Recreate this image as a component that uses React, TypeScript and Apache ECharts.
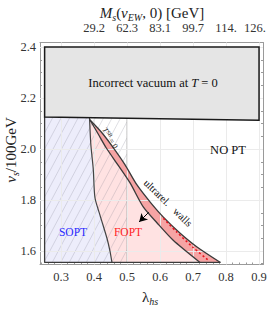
import React, { useEffect, useRef } from 'react';
import * as echarts from 'echarts';

// axis ranges
const X_MIN = 0.236;
const X_MAX = 0.912;
const Y_MIN = 1.547;
const Y_MAX = 2.418;

// tick values
const xMajor = [0.3, 0.4, 0.5, 0.6, 0.7, 0.8, 0.9];
const xMinor = [0.24, 0.26, 0.28, 0.32, 0.34, 0.36, 0.38, 0.42, 0.44, 0.46, 0.48, 0.52, 0.54, 0.56, 0.58, 0.62, 0.64, 0.66, 0.68, 0.72, 0.74, 0.76, 0.78, 0.82, 0.84, 0.86, 0.88];
const yMajor = [1.6, 1.8, 2.0, 2.2, 2.4];
const yMinor = [1.55, 1.65, 1.7, 1.75, 1.85, 1.9, 1.95, 2.05, 2.1, 2.15, 2.25, 2.3, 2.35];
const topTicks = [0.4, 0.5, 0.6, 0.7, 0.8, 0.9];
const topLabels = ['29.2', '62.3', '83.1', '99.7', '114.', '126.'];

// regions (lambda_hs, v_s/100GeV)
const grayBox = [[0.25, 2.4], [0.9, 2.4], [0.9, 2.113], [0.25, 2.126]];
const soptBoundary = [[0.386, 2.126], [0.39, 2.02], [0.3975, 1.92], [0.4025, 1.81], [0.418, 1.74], [0.439, 1.65], [0.448, 1.6], [0.454, 1.555]];
const bandLower = [[0.387, 2.115], [0.412, 2.06], [0.437, 2.004], [0.4726, 1.937], [0.509, 1.867], [0.549, 1.773], [0.591, 1.71], [0.639, 1.643], [0.721, 1.555]];
const bandUpper = [[0.387, 2.115], [0.423, 2.065], [0.459, 2.004], [0.493, 1.94], [0.530, 1.859], [0.570, 1.792], [0.610, 1.733], [0.660, 1.671], [0.712, 1.616], [0.783, 1.555]];
const redDotted = [[0.61, 1.728], [0.65, 1.675], [0.7, 1.614], [0.745, 1.565]];
const outline = [[0.25, 2.126], [0.25, 1.555], [0.783, 1.555]];
const tsbLine = [[0.5, 2.124], [0.5, 1.555]];
const hatchRect = [[0.25, 2.126], [0.5, 1.555]];
const arrowTail = [0.5665, 1.753];
const arrowHead = [0.5365, 1.714];

const SERIF = '"Liberation Serif", "DejaVu Serif", serif';

function polySeries(pts: number[][], fill: string, z: number, stroke?: string, lw?: number) {
  return {
    type: 'custom',
    coordinateSystem: 'cartesian2d',
    xAxisIndex: 0,
    yAxisIndex: 0,
    data: [pts[0]],
    z,
    silent: true,
    clip: false,
    renderItem: (params: any, api: any) => {
      if (params.dataIndex !== 0) return null;
      const points = pts.map((p) => api.coord(p));
      return {
        type: 'polygon',
        shape: { points },
        style: { fill, stroke: stroke || 'none', lineWidth: lw || 0 },
      };
    },
  };
}

function lineSeries(pts: number[][], color: string, width: number, z: number, type: any = 'solid') {
  return {
    type: 'line',
    xAxisIndex: 0,
    yAxisIndex: 0,
    data: pts,
    z,
    silent: true,
    symbol: 'none',
    smooth: 0.25,
    lineStyle: { color, width, type },
    clip: false,
  };
}

export default function App() {
  const ref = useRef<HTMLDivElement>(null);
  useEffect(() => {
    if (!ref.current) return;
    const chart = echarts.init(ref.current, undefined, { renderer: 'svg' });

    const fopt = [...soptBoundary, ...bandLower.slice().reverse()];
    const sopt = [[0.25, 2.126], ...soptBoundary, [0.25, 1.555]];
    const band = [...bandLower, ...bandUpper.slice().reverse()];

    const axisColor = '#9a9a9a';
    const lab = { fontFamily: SERIF, fontSize: 12.5, color: '#333' };
    const titleRich = {
      i: { fontFamily: SERIF, fontSize: 15, fontStyle: 'italic', lineHeight: 18, verticalAlign: 'middle' },
      n: { fontFamily: SERIF, fontSize: 15, lineHeight: 18, verticalAlign: 'middle' },
      s: { fontFamily: SERIF, fontSize: 10, fontStyle: 'italic', lineHeight: 9, verticalAlign: 'bottom' },
    };

    const option: any = {
      animation: false,
      grid: { left: 40, right: 7, top: 42.5, bottom: 44.5, containLabel: false, outerBoundsMode: 'none' },
      xAxis: [
        {
          type: 'value', position: 'bottom', min: X_MIN, max: X_MAX,
          axisLine: { show: true, onZero: false, lineStyle: { color: axisColor } },
          axisTick: { show: true, inside: true, length: 4, customValues: xMajor, lineStyle: { color: axisColor } },
          axisLabel: { ...lab, margin: 6, customValues: xMajor, formatter: (v: number) => v.toFixed(1) },
          splitLine: { show: false },
        },
        {
          type: 'value', position: 'bottom', min: X_MIN, max: X_MAX,
          axisLine: { show: false, onZero: false },
          axisTick: { show: true, inside: true, length: 2, customValues: xMinor, lineStyle: { color: axisColor } },
          axisLabel: { show: false },
          splitLine: { show: false },
        },
        {
          type: 'value', position: 'top', min: X_MIN, max: X_MAX,
          axisLine: { show: true, onZero: false, lineStyle: { color: axisColor } },
          axisTick: { show: true, inside: true, length: 4, customValues: topTicks, lineStyle: { color: axisColor } },
          axisLabel: {
            ...lab, margin: 8, customValues: topTicks,
            formatter: (v: number) => {
              const i = topTicks.findIndex((t) => Math.abs(t - v) < 1e-6);
              if (i < 0) return '';
              return i === topLabels.length - 1 ? `{r|${topLabels[i]}}` : topLabels[i];
            },
            rich: { r: { fontFamily: SERIF, fontSize: 12.5, color: '#333', padding: [0, 8, 0, 0] } },
          },
          splitLine: { show: false },
        },
      ],
      yAxis: [
        {
          type: 'value', position: 'left', min: Y_MIN, max: Y_MAX,
          axisLine: { show: true, onZero: false, lineStyle: { color: axisColor } },
          axisTick: { show: true, inside: true, length: 4, customValues: yMajor, lineStyle: { color: axisColor } },
          axisLabel: { ...lab, margin: 4, customValues: yMajor, formatter: (v: number) => v.toFixed(1) },
          splitLine: { show: false },
        },
        {
          type: 'value', position: 'left', min: Y_MIN, max: Y_MAX,
          axisLine: { show: false, onZero: false },
          axisTick: { show: true, inside: true, length: 2, customValues: yMinor, lineStyle: { color: axisColor } },
          axisLabel: { show: false },
          splitLine: { show: false },
        },
        {
          type: 'value', position: 'right', min: Y_MIN, max: Y_MAX,
          axisLine: { show: true, onZero: false, lineStyle: { color: axisColor } },
          axisTick: { show: true, inside: true, length: 4, customValues: yMajor, lineStyle: { color: axisColor } },
          axisLabel: { show: false },
          splitLine: { show: false },
        },
        {
          type: 'value', position: 'right', min: Y_MIN, max: Y_MAX,
          axisLine: { show: false, onZero: false },
          axisTick: { show: true, inside: true, length: 2, customValues: yMinor, lineStyle: { color: axisColor } },
          axisLabel: { show: false },
          splitLine: { show: false },
        },
      ],
      series: [
        {
          type: 'line', xAxisIndex: 0, yAxisIndex: 0, data: [[0.5, 2.0]], symbol: 'none', z: 0, silent: true,
          lineStyle: { opacity: 0 },
          markLine: {
            silent: true, symbol: 'none', animation: false,
            label: { show: false },
            lineStyle: { color: '#ebebeb', type: 'solid', width: 1 },
            data: [...xMajor.map((x) => ({ xAxis: x })), ...yMajor.map((y) => ({ yAxis: y }))],
          },
        },
        polySeries(sopt, '#ededfb', 1),
        polySeries(fopt, '#ffe2e2', 1),
        {
          type: 'custom', coordinateSystem: 'cartesian2d', xAxisIndex: 0, yAxisIndex: 0,
          data: [hatchRect[0]], z: 2, silent: true, clip: false,
          renderItem: (params: any, api: any) => {
            if (params.dataIndex !== 0) return null;
            const tl = api.coord(hatchRect[0]);
            const br = api.coord(hatchRect[1]);
            const xl = tl[0], xr = br[0], yt = tl[1], yb = br[1];
            const k = 1 / Math.tan((62 * Math.PI) / 180);
            const children: any[] = [];
            for (let c = xl + k * yt; c <= xr + k * yb; c += 8.5) {
              const y1 = Math.max(yt, (c - xr) / k);
              const y2 = Math.min(yb, (c - xl) / k);
              if (y2 <= y1) continue;
              children.push({
                type: 'line',
                shape: { x1: c - k * y1, y1, x2: c - k * y2, y2 },
                style: { stroke: 'rgba(110,110,130,0.32)', lineWidth: 0.7 },
              });
            }
            return { type: 'group', children };
          },
        },
        lineSeries(tsbLine, '#a8a8a8', 1, 3),
        polySeries(band, '#f6a4a4', 4),
        lineSeries(soptBoundary, '#444', 1.2, 5),
        lineSeries(bandLower, '#3a3a3a', 1.3, 5),
        lineSeries(bandUpper, '#3a3a3a', 1.3, 5),
        lineSeries(outline, '#3a3a3a', 1.3, 5),
        lineSeries(redDotted, '#e8121c', 1.5, 6, [2, 2.5]),
        polySeries(grayBox, '#e5e5e5', 7, '#1a1a1a', 1.5),
        {
          type: 'line', xAxisIndex: 0, yAxisIndex: 0, data: [arrowTail], symbol: 'none', z: 8, silent: true,
          lineStyle: { opacity: 0 },
          markLine: {
            silent: true, animation: false, symbol: ['none', 'arrow'], symbolSize: [7, 8],
            label: { show: false },
            lineStyle: { color: '#000', type: 'solid', width: 1 },
            data: [[{ coord: arrowTail }, { coord: arrowHead }]],
          },
        },
      ],
      graphic: [
        {
          type: 'text', x: 152, y: 13, z: 100,
          style: {
            text: '{i|M}{s|s}{n|(}{i|v}{s|EW}{n|, 0) [GeV]}', align: 'center', verticalAlign: 'middle',
            textAlign: 'center', textVerticalAlign: 'middle',
            font: `15px ${SERIF}`, fill: '#222',
            rich: titleRich,
          },
        },
        {
          type: 'text', x: 11, y: 150, rotation: Math.PI / 2, z: 100,
          style: {
            text: '{i|v}{s|s}{n|/100GeV}', align: 'center', verticalAlign: 'middle',
            textAlign: 'center', textVerticalAlign: 'middle',
            font: `15px ${SERIF}`, fill: '#222',
            rich: titleRich,
          },
        },
        {
          type: 'text', x: 150, y: 297, z: 100,
          style: {
            text: '{n|λ}{s|hs}', align: 'center', verticalAlign: 'middle',
            textAlign: 'center', textVerticalAlign: 'middle',
            font: `15px ${SERIF}`, fill: '#222',
            rich: titleRich,
          },
        },
        {
          type: 'text', x: 153, y: 83, z: 100,
          style: {
            text: 'Incorrect vacuum at {i|T} = 0', align: 'center', verticalAlign: 'middle',
            textAlign: 'center', textVerticalAlign: 'middle',
            font: `12.5px ${SERIF}`, fill: '#111',
            rich: { i: { fontFamily: SERIF, fontSize: 12.5, fontStyle: 'italic' } },
          },
        },
        {
          type: 'text', x: 228, y: 150, z: 100,
          style: { text: 'NO PT', align: 'center', verticalAlign: 'middle', textAlign: 'center', textVerticalAlign: 'middle', font: `12.5px ${SERIF}`, fill: '#111' },
        },
        {
          type: 'text', x: 73, y: 232, z: 100,
          style: { text: 'SOPT', align: 'center', verticalAlign: 'middle', textAlign: 'center', textVerticalAlign: 'middle', font: `11.5px ${SERIF}`, fill: '#2a2aff' },
        },
        {
          type: 'text', x: 128, y: 232, z: 100,
          style: { text: 'FOPT', align: 'center', verticalAlign: 'middle', textAlign: 'center', textVerticalAlign: 'middle', font: `11.5px ${SERIF}`, fill: '#ff2222' },
        },
        {
          type: 'text', x: 168, y: 203, rotation: (-44 * Math.PI) / 180, z: 100,
          style: { text: 'ultrarel.   walls', align: 'center', verticalAlign: 'middle', textAlign: 'center', textVerticalAlign: 'middle', font: `10.5px ${SERIF}`, fill: '#111' },
        },
        {
          type: 'text', x: 110, y: 138, rotation: (-59 * Math.PI) / 180, z: 100,
          style: {
            text: '{i|T}{s|SB} = 0', align: 'center', verticalAlign: 'middle',
            textAlign: 'center', textVerticalAlign: 'middle',
            font: `8px ${SERIF}`, fill: '#222',
            rich: {
              i: { fontFamily: SERIF, fontSize: 8, fontStyle: 'italic', lineHeight: 10, verticalAlign: 'middle' },
              s: { fontFamily: SERIF, fontSize: 5.5, fontStyle: 'italic', lineHeight: 6, verticalAlign: 'top' },
            },
          },
        },
      ],
    };
    chart.setOption(option);
    return () => chart.dispose();
  }, []);
  return <div ref={ref} style={{ position: 'absolute', left: 0, top: 0, width: 270, height: 309 }} />;
}
